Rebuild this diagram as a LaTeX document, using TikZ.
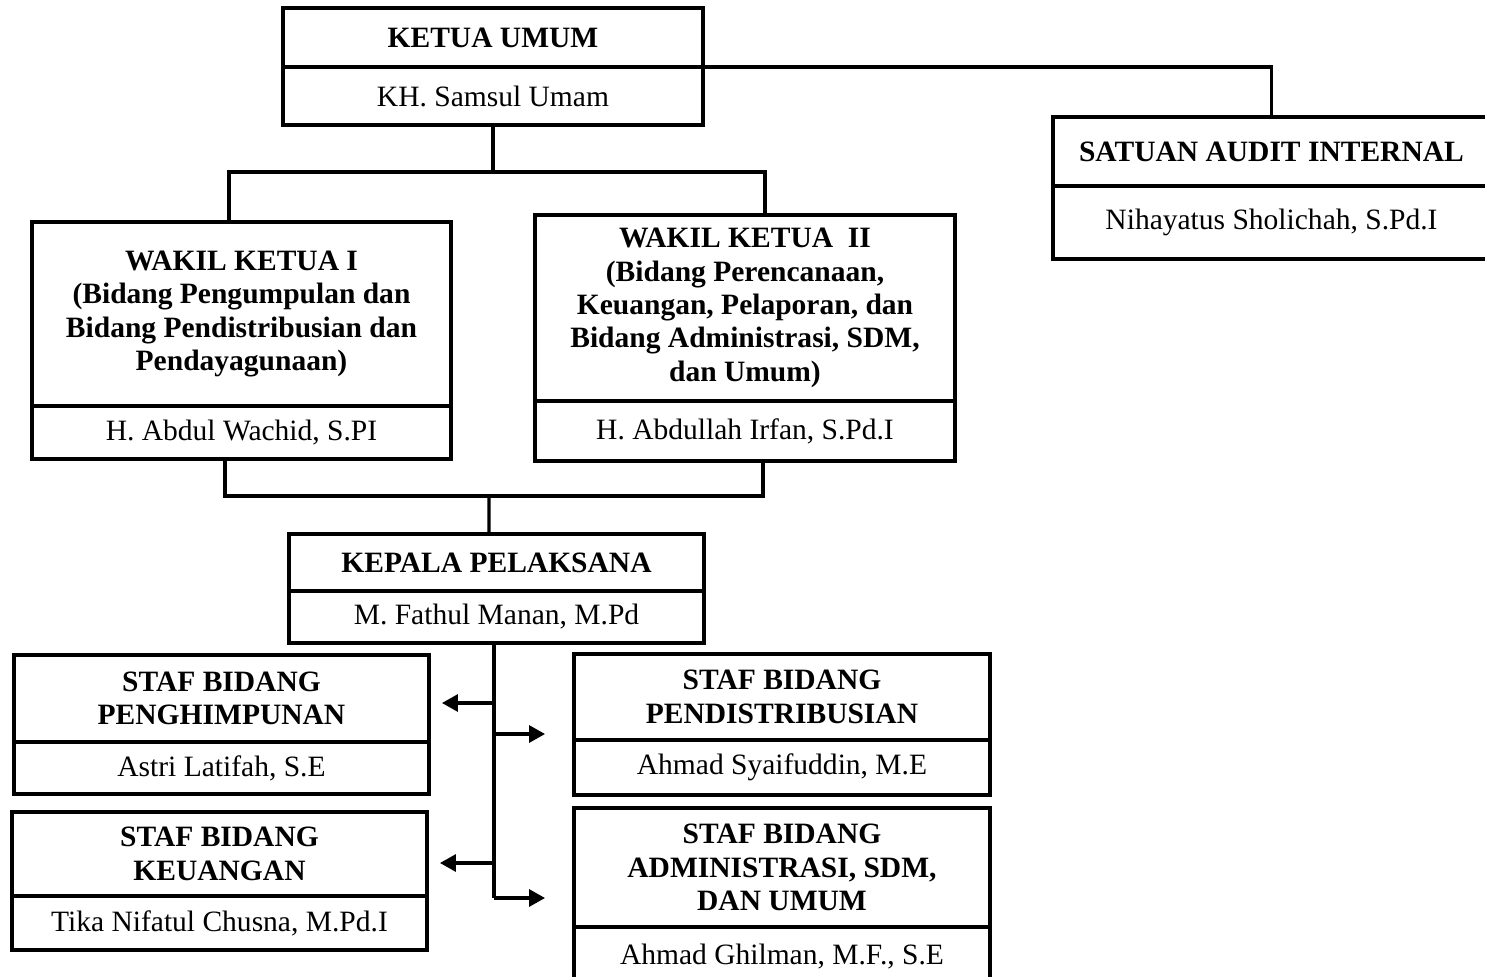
\documentclass[tikz,border=0pt]{standalone}
\usepackage{fontspec}
\setmainfont{Liberation Serif}
\usepackage{tikz}
\usetikzlibrary{positioning,arrows.meta,calc}
\tikzset{
  head/.style={draw, line width=1.8pt, outer sep=0pt, inner sep=0pt, align=center, font=\fontsize{16.8}{19}\selectfont\bfseries},
  who/.style={draw, line width=1.8pt, outer sep=0pt, inner sep=0pt, align=center, font=\fontsize{16.8}{19}\selectfont},
  link/.style={line width=1.8pt},
  arr/.style={-{Triangle[length=3.2mm,width=3.4mm]}, line width=1.8pt},
}

\begin{document}
\begin{tikzpicture}[x=0.02cm,y=-0.02cm]
    \path[use as bounding box, clip] (0,0) rectangle (1485,977);
    % pimpinan
    \node[head, minimum width=8.4cm, minimum height=1.18cm] (ketua) at (493,37.5) {KETUA UMUM};
    \node[who, minimum width=8.4cm, minimum height=1.16cm, below=0pt of ketua] (ketuaNm) {KH. Samsul Umam};
    \node[head, minimum width=8.74cm, minimum height=1.38cm] (sai) at (1271.5,151.5) {SATUAN AUDIT INTERNAL};
    \node[who, minimum width=8.74cm, minimum height=1.46cm, below=0pt of sai] (saiNm) {Nihayatus Sholichah, S.Pd.I};
    % wakil ketua
    \node[head, minimum width=8.38cm, minimum height=3.68cm] (wk1) at (241.5,314) {WAKIL KETUA I\\(Bidang Pengumpulan dan\\Bidang Pendistribusian dan\\Pendayagunaan)};
    \node[who, minimum width=8.38cm, minimum height=1.06cm, below=0pt of wk1] (wk1Nm) {H. Abdul Wachid, S.PI};
    \node[head, minimum width=8.4cm, minimum height=3.72cm] (wk2) at (745,308) {WAKIL KETUA~~II\\(Bidang Perencanaan,\\Keuangan, Pelaporan, dan\\Bidang Administrasi, SDM,\\dan Umum)};
    \node[who, minimum width=8.4cm, minimum height=1.2cm, below=0pt of wk2] (wk2Nm) {H. Abdullah Irfan, S.Pd.I};
    % pelaksana
    \node[head, minimum width=8.3cm, minimum height=1.14cm] (kepala) at (496.5,562.5) {KEPALA PELAKSANA};
    \node[who, minimum width=8.3cm, minimum height=1.04cm, below=0pt of kepala] (kepalaNm) {M. Fathul Manan, M.Pd};
    % staf
    \node[head, minimum width=8.3cm, minimum height=1.74cm] (pengh) at (221.5,698.5) {STAF BIDANG\\PENGHIMPUNAN};
    \node[who, minimum width=8.3cm, minimum height=1.04cm, below=0pt of pengh] (penghNm) {Astri Latifah, S.E};
    \node[head, minimum width=8.3cm, minimum height=1.68cm] (keu) at (219.5,854) {STAF BIDANG\\KEUANGAN};
    \node[who, minimum width=8.3cm, minimum height=1.08cm, below=0pt of keu] (keuNm) {Tika Nifatul Chusna, M.Pd.I};
    \node[head, minimum width=8.32cm, minimum height=1.72cm] (dist) at (782,697) {STAF BIDANG\\PENDISTRIBUSIAN};
    \node[who, minimum width=8.32cm, minimum height=1.1cm, below=0pt of dist] (distNm) {Ahmad Syaifuddin, M.E};
    \node[head, minimum width=8.32cm, minimum height=2.38cm] (adm) at (782,867.5) {STAF BIDANG\\ADMINISTRASI, SDM,\\DAN UMUM};
    \node[who, minimum width=8.32cm, minimum height=1.2cm, below=0pt of adm] (admNm) {Ahmad Ghilman, M.F., S.E};
    % garis
    \coordinate (split1) at (493,172);
    \coordinate (split2) at (489,496);
    \draw[link] (ketua.south east) -| (sai.north);
    \draw[link] (ketuaNm.south) -- (split1);
    \draw[link] ([xshift=-0.25cm]wk1.north) |- (split1) -| ([xshift=0.4cm]wk2.north);
    \draw[link] ([xshift=-0.33cm]wk1Nm.south) |- (split2) -| ([xshift=0.36cm]wk2Nm.south);
    \draw[link] (split2) -- ([xshift=-0.15cm]kepala.north);
    % cabang staf
    \coordinate (t1) at (494,703);
    \coordinate (t2) at (494,734);
    \coordinate (t3) at (494,863);
    \coordinate (t4) at (494,898);
    \draw[link] (kepalaNm.south -| t1) -- (t4);
    \draw[arr, shorten >=0.26cm] (t1) -- (t1 -| pengh.east);
    \draw[arr, shorten >=0.26cm] (t3) -- (t3 -| keu.east);
    \draw[arr, shorten >=0.58cm] (t2) -- (t2 -| dist.west);
    \draw[arr, shorten >=0.58cm] (t4) -- (t4 -| adm.west);
\end{tikzpicture}
\end{document}
